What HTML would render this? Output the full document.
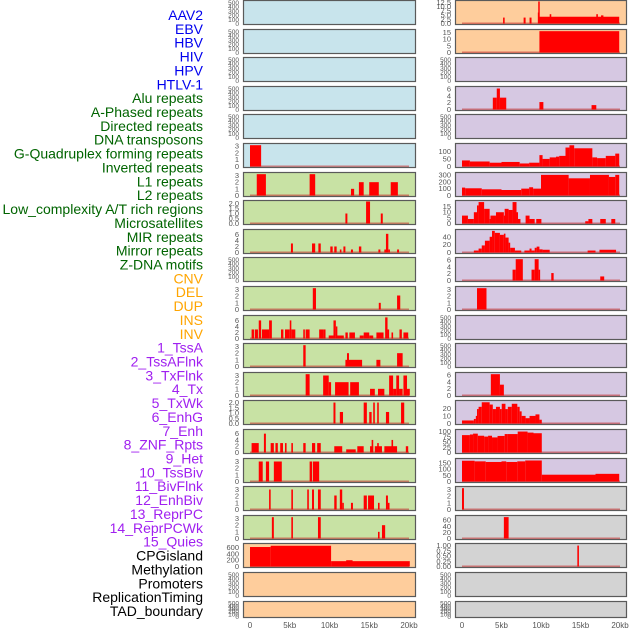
<!DOCTYPE html>
<html><head><meta charset="utf-8"><style>
body{margin:0;background:#fff;}
svg{display:block;font-family:"Liberation Sans",sans-serif;}
</style></head><body>
<svg id="chart" width="630" height="630" viewBox="0 0 630 630"></svg>
<script>
const labels = ["AAV2","EBV","HBV","HIV","HPV","HTLV-1","Alu repeats","A-Phased repeats","Directed repeats","DNA transposons","G-Quadruplex forming repeats","Inverted repeats","L1 repeats","L2 repeats","Low_complexity A/T rich regions","Microsatellites","MIR repeats","Mirror repeats","Z-DNA motifs","CNV","DEL","DUP","INS","INV","1_TssA","2_TssAFlnk","3_TxFlnk","4_Tx","5_TxWk","6_EnhG","7_Enh","8_ZNF_Rpts","9_Het","10_TssBiv","11_BivFlnk","12_EnhBiv","13_ReprPC","14_ReprPCWk","15_Quies","CPGisland","Methylation","Promoters","ReplicationTiming","TAD_boundary"];
const labelColors = ["#0000ee",6,"#006400",13,"#ffa500",5,"#a020f0",15,"#000000",5];
const xTicks = [0,5,10,15,20];
const xTickLabels = ["0","5kb","10kb","15kb","20kb"];
const emptyTicks = [0,100,200,300,400,500];
// left column panels: ticks and bars [startKb, endKb, value]
const L1=[],L2=[],L3=[],L4=[],L5=[];
const L6=[[0,1.4,3.1]];
const L7=[[0.85,2.0,3.2],[7.5,8.2,3.2],[12.7,13.1,1],[13.7,14.3,2],[15,16.2,2],[17.7,18.6,2]];
const L8=[[12,12.25,1],[14.6,15.1,2.2],[16.45,16.7,1]];
const L9=[[5.15,5.4,3],[7.8,8.2,3],[8.6,8.9,3],[10.1,10.4,2],[10.6,10.9,2],[11.3,11.5,1],[11.75,12,2],[12.7,12.95,1],[13.7,14,2],[16.15,16.4,1],[16.9,17.1,1],[17.1,17.4,6.2],[17.4,17.6,1],[18.5,18.75,1]];
const L10=[];
const L11=[[7.9,8.3,3.2],[16.2,16.45,1],[18.5,18.9,2.1]];
const L12=[[0.2,0.5,3],[0.6,1.0,3],[1.1,1.4,6],[1.5,2.4,3],[2.4,2.75,6],[3.9,4.2,3],[4.4,5.0,3],[5.0,5.2,6],[5.2,5.7,3],[6.7,6.9,3],[7.0,7.5,3],[8.7,9.2,3],[9.2,9.5,3],[9.9,10.5,1],[10.5,10.8,6],[10.8,10.95,4],[10.95,11.8,1],[12.0,12.3,2],[12.5,13.2,2],[13.8,14.3,1],[14.3,15.0,2],[15.0,15.5,1],[15.9,16.8,2],[17.0,17.3,7],[17.3,17.5,3],[17.8,18.0,2],[18.8,19.1,3],[19.3,19.9,2]];
const L13=[[6.7,7.0,3.2],[12,14.1,1],[12.2,12.45,2],[15.9,16.4,1],[18.5,19.2,2]];
const L14=[[7.0,7.5,3.2],[9.2,9.9,3],[9.9,10.2,2],[10.7,12.4,2],[12.6,13.7,2],[15.1,15.7,1],[16.1,16.9,1],[17.5,18.0,3],[18.0,18.4,1],[18.4,18.75,3],[18.75,19.2,1],[19.3,19.75,3],[19.75,20.1,1]];
const L15=[[10.5,10.75,2],[11.3,11.7,1.1],[14.3,14.7,2],[15.0,15.3,1.1],[15.5,15.7,2],[16.0,16.2,2],[17.1,17.5,1.1],[19.0,19.4,2]];
const L16=[[0.2,1.1,3],[1.75,2.0,6],[2.6,3.0,3],[3.2,3.5,3],[3.8,4.15,3],[4.4,4.6,3],[5.2,5.4,3],[6.7,7.0,3],[7.8,8.2,3],[8.45,8.9,3],[10.6,11.6,2],[12.1,13.3,1],[13.5,14.3,2],[15.1,15.5,2],[15.3,15.5,4],[15.7,16.6,2],[16.0,16.2,3],[16.9,18.5,2],[17.8,18.0,4],[19.6,19.9,2]];
const L17=[[1.1,1.6,3],[2.0,2.4,3],[3.0,4.0,3],[7.5,7.8,3],[7.9,8.7,3]];
const L18=[[2.4,2.6,3],[5.2,5.4,3],[7.2,7.4,3],[7.8,8.05,3],[8.55,8.9,3],[10.6,10.9,2.1],[11.3,11.6,3],[11.6,11.8,1],[12.7,12.95,1],[14.3,14.7,2.1],[14.85,15.6,2.1],[16.1,16.3,1],[17.1,17.35,2.1],[17.35,17.55,1]];
const L19=[[2.75,3.0,3.2],[5.2,5.4,3.2],[8.55,8.9,3.2],[16.1,16.3,1],[16.6,17.0,2]];
const L20=[[0,2.6,620],[2.6,10.2,660],[10.2,20.1,170],[12.1,12.9,200]];
const L21=[],L22=[];
const R1=[[5.2,5.4,3.5],[7.8,8.05,3.5],[8.55,8.8,3.5],[9.6,9.8,6.5],[9.65,9.75,13],[9.8,19.9,4],[11.1,11.3,5.5],[17.0,17.2,5.5],[17.6,17.9,4.8]];
const R2=[[9.8,19.9,16]];
const R3=[];
const R4=[[3.9,4.4,3.5],[4.4,4.8,6.2],[4.8,5.6,3.5],[9.8,10.3,2.2],[16.4,17.0,1.3]];
const R5=[];
const R6=[[0,1.0,40],[1.0,3.5,33],[3.5,5.0,25],[5.0,7.3,30],[7.3,8.5,20],[8.5,9.8,25],[9.8,10.2,75],[10.2,11.1,50],[11.1,11.9,60],[11.9,12.3,65],[12.3,13.1,70],[13.1,13.6,125],[13.6,14.2,140],[14.2,16.5,120],[16.5,17.1,60],[17.1,18.2,55],[18.2,19.4,70],[19.4,19.9,85]];
const R7=[[0,0.4,115],[0.4,2.5,105],[2.5,5.0,90],[5.0,7.5,80],[7.5,8.5,100],[8.5,9.0,120],[9.0,10.0,100],[10.0,13.5,300],[13.5,16.2,250],[16.2,18.6,300],[18.6,19.4,270],[19.4,19.9,300]];
const R8=[[0,0.75,7],[0.75,1.5,4],[1.5,1.9,10],[1.9,2.1,16],[2.1,2.8,19],[2.8,3.5,13],[3.5,3.6,4],[3.6,4.3,7],[4.3,5.3,10],[5.3,5.4,7],[5.4,5.9,13],[5.9,6.4,12],[6.4,6.9,19],[6.9,7.05,10],[7.05,7.4,4],[8.05,8.55,7],[8.55,9.2,4],[9.4,10.05,4],[15.6,16.0,2],[16.0,16.5,4],[17.5,18.2,4],[18.9,19.4,4]];
const R9=[[1.5,2.1,5],[2.1,2.5,10],[2.5,2.9,18],[2.9,3.5,30],[3.5,3.8,40],[3.8,4.15,55],[4.15,4.8,50],[4.8,5.3,45],[5.3,5.5,48],[5.5,5.9,38],[5.9,6.1,25],[6.1,6.7,12],[6.7,7.5,5],[7.9,8.55,5],[8.55,8.8,10],[8.8,9.2,5],[9.2,9.45,12],[9.45,9.8,15],[9.8,10.2,8],[10.2,11.1,7],[15.9,16.9,5],[17.4,19.5,7]];
const R10=[[6.4,6.8,3.2],[6.8,7.7,6.3],[8.8,9.2,3.2],[9.2,9.7,6.3],[9.7,9.85,3.2],[11.3,11.6,2.2],[17.5,18.0,1.2]];
const R11=[[1.9,3.1,3.2]];
const R12=[],R13=[];
const R14=[[3.65,4.8,6.3],[4.8,5.3,3.2]];
const R15=[[0,1.5,4],[1.5,1.75,6],[1.75,1.9,10],[1.9,2.1,19],[2.1,2.5,22],[2.5,3.5,28],[3.5,3.9,25],[3.9,4.3,19],[4.3,4.8,22],[4.8,5.03,19],[5.03,5.5,26],[5.5,5.8,19],[5.8,6.3,22],[6.3,7.0,26],[7.0,7.3,22],[7.3,7.55,16],[7.55,8.05,10],[8.05,8.55,7],[8.55,9.3,10],[9.3,9.8,12],[9.8,10.1,5]];
const R16=[[0,1.0,83],[1.0,1.4,86],[1.4,2.0,90],[2.0,2.8,80],[2.8,3.3,76],[3.3,3.8,80],[3.8,4.5,72],[4.5,5.4,79],[5.4,5.8,88],[5.8,7.05,88],[7.05,8.3,100],[8.3,9.05,95],[9.05,10.1,92]];
const R17=[[0,1.6,168],[1.6,3.0,163],[3.0,5.0,158],[5.0,5.6,163],[5.6,7.0,158],[7.0,8.0,163],[8.0,10.1,170],[10.1,16.9,55],[16.9,19.9,62]];
const R18=[[0,0.25,3.2]];
const R19=[[5.3,5.9,70]];
const R20=[[14.6,14.8,1.0]];
const R21=[],R22=[];
const leftTicks=[emptyTicks,emptyTicks,emptyTicks,emptyTicks,emptyTicks,[0,1,2,3],[0,1,2,3],[0,0.5,1,1.5,2],[0,2,4,6],emptyTicks,[0,1,2,3],[0,2,4,6],[0,1,2,3],[0,1,2,3],[0,0.5,1,1.5,2],[0,2,4,6],[0,1,2,3],[0,1,2,3],[0,1,2,3],[0,200,400,600],emptyTicks,emptyTicks];
const rightTicks=[[0,2.5,5,7.5,10,12.5],[0,5,10,15],emptyTicks,[0,2,4,6],emptyTicks,[0,50,100],[0,100,200,300],[0,5,10,15],[0,20,40],[0,2,4,6],[0,1,2,3],emptyTicks,emptyTicks,[0,2,4,6],[0,10,20],[0,25,50,75,100],[0,50,100,150],[0,1,2,3],[0,20,40,60],[0,0.25,0.5,0.75,1],emptyTicks,emptyTicks];
const leftMax=[525,525,525,525,525,3.2,3.3,2.2,7.3,525,3.3,7.3,3.3,3.3,2.1,7,3.3,3.3,3.3,700,525,525];
const rightMax=[13,16.5,525,6.5,525,145,320,19.5,56,6.5,3.3,525,525,6.5,29,105,178,3.3,72,1.05,525,525];
const leftData=[L1,L2,L3,L4,L5,L6,L7,L8,L9,L10,L11,L12,L13,L14,L15,L16,L17,L18,L19,L20,L21,L22];
const rightData=[R1,R2,R3,R4,R5,R6,R7,R8,R9,R10,R11,R12,R13,R14,R15,R16,R17,R18,R19,R20,R21,R22];
const leftBg=["#c8e4ec",6,"#c8e2a4",13,"#fecd9c",3];
const rightBg=["#fecd9c",2,"#d6c8e2",15,"#d3d3d3",5];
const tickFmt={0:v=>v.toFixed(1),7:v=>v.toFixed(1),14:v=>v.toFixed(1)};

const NS="http://www.w3.org/2000/svg";
const svg=document.getElementById('chart');
function mk(tag,attrs,parent){const e=document.createElementNS(NS,tag);for(const k in attrs)e.setAttribute(k,attrs[k]);(parent||svg).appendChild(e);return e;}
function expand(spec){const out=[];for(let i=0;i<spec.length;i+=2)for(let j=0;j<spec[i+1];j++)out.push(spec[i]);return out;}
const lblCol=expand(labelColors);
labels.forEach((t,i)=>{
  const e=mk('text',{x:203,y:15+i*13.86+5,'text-anchor':'end','font-size':'14',fill:lblCol[i]});
  e.textContent=t;
  
  
});
const lbg=expand(leftBg), rbg=expand(rightBg);
function fmt(v,ticks){
  const step=ticks.length>1?ticks[1]-ticks[0]:1;
  if(step===0.25)return v.toFixed(2);
  if(step%1!==0)return v.toFixed(1);
  return String(v);
}
function panel(x0,x1,top,h,bg,ticks,ymax,bars,name){
  const g=mk('g',{});
  
  
  const kb0=x0+7, pxPerKb=(x1-x0-14)/20;
  const xs=k=>kb0+k*pxPerKb;
  const yb=top+h-1.5, yt=top+1.5;
  const ys=v=>yb-(v/ymax)*(yb-yt);
  mk('rect',{x:x0,y:top,width:x1-x0,height:h,fill:bg},g);
  if(bars.length){
    mk('line',{x1:xs(0),x2:xs(20),y1:yb,y2:yb,stroke:'rgba(200,40,40,0.55)','stroke-width':2},g);
  }
  bars.forEach(b=>{
    const r=mk('rect',{x:xs(b[0]),y:ys(b[2]),width:Math.max(1.5,xs(b[1])-xs(b[0])),height:yb-ys(b[2]),fill:'#ff0000'},g);
    
    
  });
  mk('rect',{x:x0+0.5,y:top+0.5,width:x1-x0-1,height:h-1,fill:'none',stroke:'#5a5a5a','stroke-width':1.2},g);
  const fs=ticks===emptyTicks?6.5:7.5;
  ticks.forEach(t=>{
    const e=mk('text',{x:x0-4,y:ys(t)+2.5,'text-anchor':'end','font-size':fs,fill:'#555'},g);
    e.textContent=fmt(t,ticks);
  });
  return xs;
}
let lxs,rxs;
for(let i=0;i<22;i++){
  const top=Math.round(i*28.6), h=i===21?17:25;
  lxs=panel(243,416,top,h,lbg[i],leftTicks[i],leftMax[i],leftData[i],'left-panel-'+(i+1));
  rxs=panel(455,627,top,h,rbg[i],rightTicks[i],rightMax[i],rightData[i],'right-panel-'+(i+1));
}
xTicks.forEach((k,i)=>{
  [lxs,rxs].forEach((xs,c)=>{
    const e=mk('text',{x:xs(k),y:628,'text-anchor':'middle','font-size':'8',fill:'#555'});
    e.textContent=xTickLabels[i];
    
    
  });
});
</script>
</body></html>
